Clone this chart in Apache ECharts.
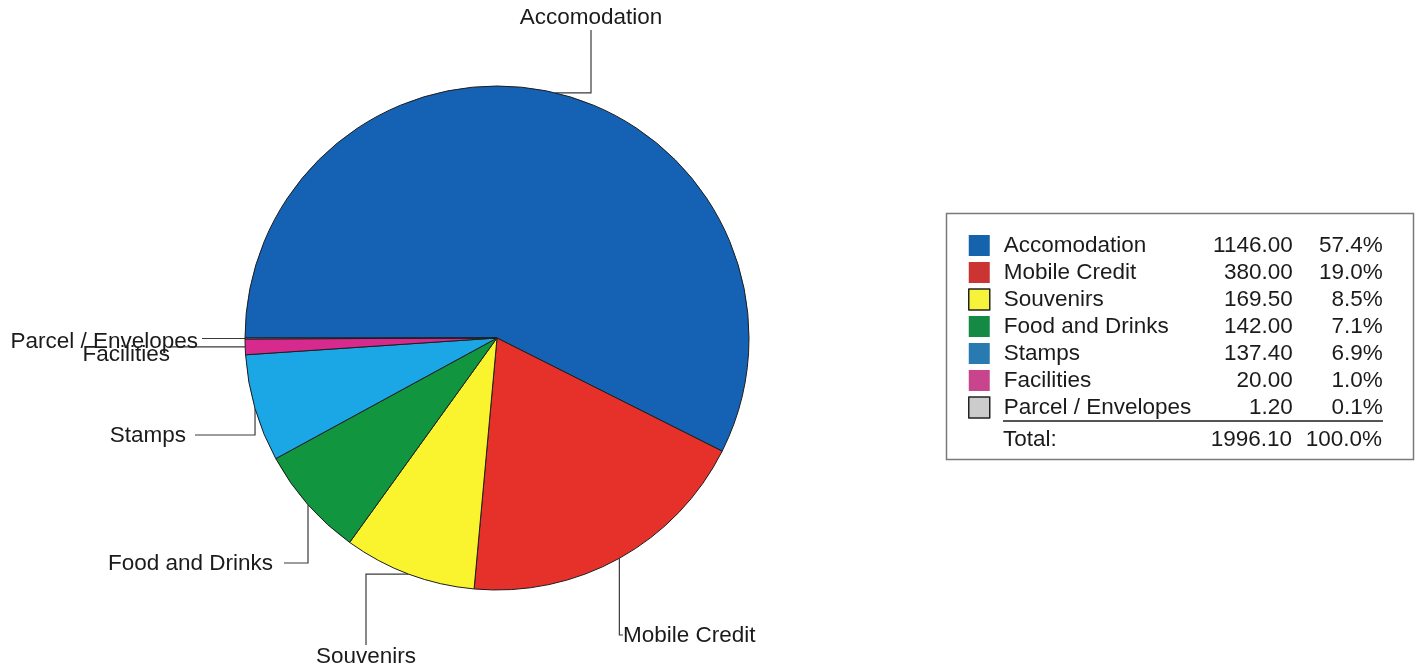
<!DOCTYPE html>
<html>
<head>
<meta charset="utf-8">
<style>
  html, body { margin: 0; padding: 0; background: #ffffff; }
  #chart { width: 1417px; height: 669px; }
</style>
<script src="https://cdn.jsdelivr.net/npm/echarts@6/dist/echarts.min.js"></script>
</head>
<body>
<div id="chart"></div>
<script>
// Spending breakdown
const categories = ['Accomodation', 'Mobile Credit', 'Souvenirs', 'Food and Drinks', 'Stamps', 'Facilities', 'Parcel / Envelopes'];
const amounts = [1146.00, 380.00, 169.50, 142.00, 137.40, 20.00, 1.20];
const sliceColors = ['#1562b4', '#e6312b', '#f9f42e', '#12953f', '#1ba7e6', '#d62a8e', '#cfcfcf'];
const swatchColors = ['#1563ad', '#cc3333', '#f6f33a', '#158a45', '#2a7ab2', '#c8448c', '#cccccc'];
const swatchOutlined = [false, false, true, false, false, false, true];

const FONT = '"Liberation Sans", Arial, sans-serif';
const FS = 22.5;
const LH = 21;
const TEXT = '#1b1b1b';
const total = amounts.reduce((a, b) => a + b, 0);
const pct = v => (v / total * 100).toFixed(1) + '%';

// Elbow leader lines: each entry turns the slice's edge anchor into a
// polyline and places the label at the end of it.
const leaders = [
  p => ({ pts: [p, [591, p[1]], [591, 30]], x: 591, y: 18, align: 'center' }),
  p => ({ pts: [p, [p[0], 635], [623, 635]], x: 623, y: 636, align: 'left' }),
  p => ({ pts: [p, [366, p[1]], [366, 645]], x: 366, y: 657, align: 'center' }),
  p => ({ pts: [p, [p[0], 563], [284, 563]], x: 273, y: 564, align: 'right' }),
  p => ({ pts: [p, [p[0], 435], [195, 435]], x: 186, y: 436, align: 'right' }),
  p => ({ pts: [p, [170, p[1]]], x: 170, y: 355, align: 'right' }),
  p => ({ pts: [p, [202, p[1]]], x: 198, y: 342, align: 'right' })
];

const chart = echarts.init(document.getElementById('chart'), null, { renderer: 'canvas' });

chart.setOption({
  animation: false,
  backgroundColor: '#ffffff',
  legend: {
    orient: 'vertical',
    left: 968,
    top: 234,
    padding: 0,
    itemWidth: 21,
    itemHeight: 21,
    itemGap: 4,
    icon: 'rect',
    selectedMode: false,
    data: categories.map((c, i) => ({
      name: c,
      itemStyle: {
        color: swatchColors[i],
        borderColor: swatchOutlined[i] ? '#222222' : swatchColors[i],
        borderWidth: swatchOutlined[i] ? 1.5 : 0
      }
    })),
    formatter: name => {
      const i = categories.indexOf(name);
      return '{n|' + name + '}{v|' + amounts[i].toFixed(2) + '}{p|' + pct(amounts[i]) + '}';
    },
    textStyle: {
      fontFamily: FONT,
      fontSize: FS,
      lineHeight: LH,
      color: TEXT,
      rich: {
        n: { fontFamily: FONT, fontSize: FS, lineHeight: LH, color: TEXT, width: 200, padding: [0, 0, 0, 9] },
        v: { fontFamily: FONT, fontSize: FS, lineHeight: LH, color: TEXT, width: 89, align: 'right' },
        p: { fontFamily: FONT, fontSize: FS, lineHeight: LH, color: TEXT, width: 90, align: 'right' }
      }
    }
  },
  graphic: [
    { type: 'rect', shape: { x: 946.5, y: 213.5, width: 467, height: 246 },
      style: { fill: 'none', stroke: '#7a7a7a', lineWidth: 1.5 } },
    { type: 'line', shape: { x1: 1003, y1: 421, x2: 1383, y2: 421 },
      style: { stroke: '#555555', lineWidth: 2 } },
    { type: 'text', x: 1003, y: 440,
      style: { text: 'Total:', fill: TEXT, font: FS + 'px ' + FONT, textAlign: 'left', textVerticalAlign: 'middle' } },
    { type: 'text', x: 1292, y: 440,
      style: { text: total.toFixed(2), fill: TEXT, font: FS + 'px ' + FONT, textAlign: 'right', textVerticalAlign: 'middle' } },
    { type: 'text', x: 1382, y: 440,
      style: { text: '100.0%', fill: TEXT, font: FS + 'px ' + FONT, textAlign: 'right', textVerticalAlign: 'middle' } }
  ],
  series: [{
    type: 'pie',
    center: [497, 338],
    radius: 252,
    startAngle: 180,
    clockwise: true,
    avoidLabelOverlap: false,
    data: categories.map((c, i) => ({ name: c, value: amounts[i], itemStyle: { color: sliceColors[i] } })),
    itemStyle: { borderColor: '#1e1e1e', borderWidth: 1 },
    label: {
      show: true,
      position: 'outside',
      formatter: '{b}',
      fontFamily: FONT,
      fontSize: FS,
      color: TEXT
    },
    labelLine: {
      show: true,
      smooth: false,
      length: 10,
      length2: 10,
      lineStyle: { color: '#3a3a3a', width: 1.2 }
    },
    labelLayout: params => {
      const anchor = params.labelLinePoints[0];
      const l = leaders[params.dataIndex]([anchor[0], anchor[1]]);
      return {
        x: l.x,
        y: l.y,
        align: l.align,
        verticalAlign: 'middle',
        labelLinePoints: l.pts
      };
    },
    emphasis: { disabled: true }
  }]
});
</script>
</body>
</html>
